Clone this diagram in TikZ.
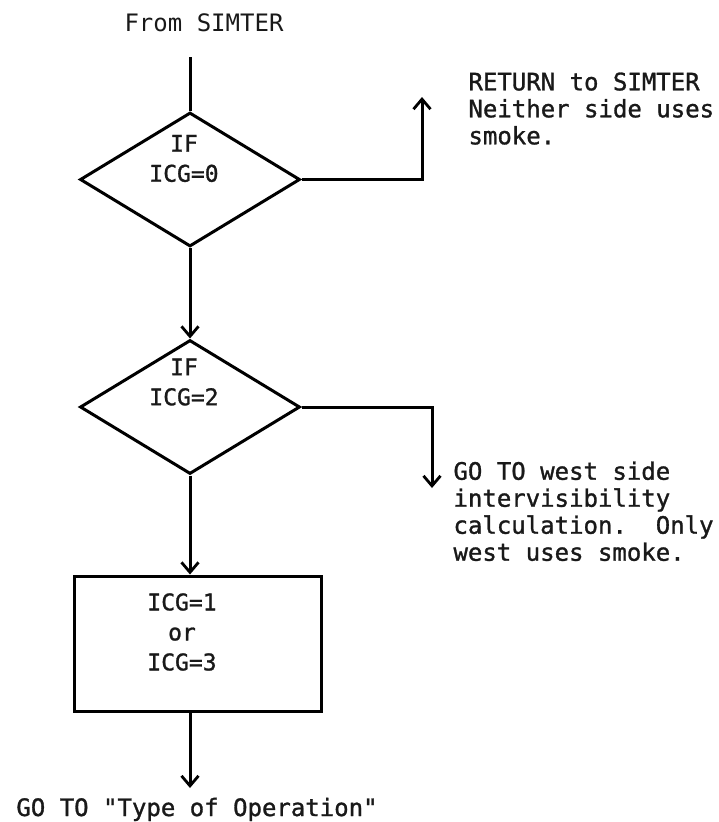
\documentclass[tikz,border=0pt]{standalone}
\usepackage{fontspec}
\setmonofont{DejaVu Sans Mono}[FakeBold=1.2]
\newfontfamily\lightmono{DejaVu Sans Mono}
\usetikzlibrary{arrows.meta,shapes.geometric}
\begin{document}
\begin{tikzpicture}[x=1pt,y=-1pt,
  line width=3pt,
  flow/.style={-{Straight Barb[length=10pt,width=17pt,line width=2.8pt]}},
  txt/.style={font=\ttfamily\fontsize{24}{27}\selectfont,inner sep=0pt,text=black!90},
  inner/.style={font=\ttfamily\fontsize{23}{30}\selectfont,inner sep=0pt,align=center,text=black!90},
  boxtxt/.style={font=\ttfamily\fontsize{23}{30}\selectfont,inner sep=0pt,align=center,text=black!90},
  decision/.style={draw,diamond,minimum width=220pt,minimum height=134pt,inner sep=0pt},
  process/.style={draw,rectangle,minimum width=247pt,minimum height=135pt,inner sep=0pt}]
\useasboundingbox (0,0) rectangle (719,822);

% labels
\node[txt,font=\lightmono\fontsize{24}{27}\selectfont] (from) at (204,23) {From SIMTER};
\node[txt,anchor=north west,align=left] (ret) at (467,71)
  {RETURN to SIMTER\\Neither side uses\\smoke.};
\node[txt,anchor=north west,align=left] (west) at (452,460)
  {GO TO west side\\intervisibility\\calculation.\ \ Only\\west uses smoke.};
\node[txt,anchor=base] (goto) at (197,816) {GO TO "Type of Operation"};

% shapes
\node[decision] (d1) at (190,179.5) {};
\node[inner] (d1t) at (184,158.5) {IF\\ICG=0};
\node[decision] (d2) at (190,407) {};
\node[inner] (d2t) at (184,382) {IF\\ICG=2};
\node[process] (b) at (197.5,643.5) {};
\node[boxtxt] (bt) at (182,632) {ICG=1\\or\\ICG=3};

% free ends
\coordinate (s) at (190,57);
\coordinate (r1) at (422,97);
\coordinate (r2) at (432,488);
\coordinate (t3) at (190,788);

% connectors
\draw (s) -- (d1.north);
\draw[flow] (d1.east) -| (r1);
\draw[flow] (d1.south) -- (d2.north);
\draw[flow] (d2.east) -| (r2);
\draw[flow] (d2.south) -- (d2.south |- b.north);
\draw[flow] (b.south -| d2.south) -- (t3);
\end{tikzpicture}
\end{document}
